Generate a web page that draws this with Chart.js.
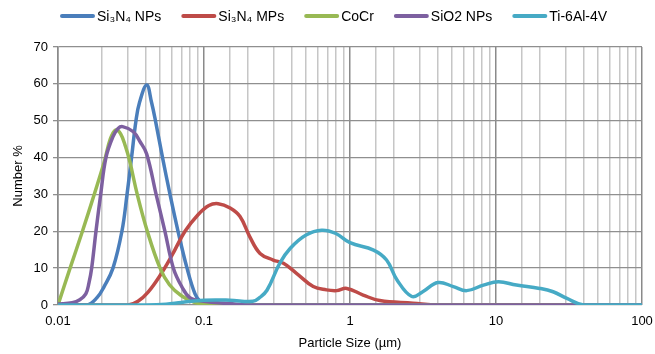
<!DOCTYPE html>
<html>
<head>
<meta charset="utf-8">
<script src="https://cdn.jsdelivr.net/npm/chart.js@4/dist/chart.umd.min.js"></script>
<style>
    html, body { margin: 0; padding: 0; background: #FFFFFF; }
    #graph_wrap { width: 655px; height: 354px; position: relative; }
</style>
</head>
<body>
<div id="graph_wrap"><canvas id="graph_psd"></canvas></div>
<script>

var LABELS_SERIES           = ['Si\u2083N\u2084 NPs', 'Si\u2083N\u2084 MPs', 'CoCr', 'SiO2 NPs', 'Ti-6Al-4V'];
var COLORS_SERIES           = ['#4A7EBB', '#BE4B48', '#98B954', '#7D60A0', '#46AAC5'];

var TICKS_X                 = [0.01, 0.1, 1, 10, 100];

var size_si3n4_nps          = [0.01, 0.0158, 0.0185, 0.0207, 0.0238, 0.0274, 0.0297, 0.0319, 0.0342, 0.0362, 0.0405, 0.0437, 0.0465, 0.052, 0.0585, 0.0664, 0.0765, 0.0868, 0.0939, 0.1032, 0.2, 100];
var value_si3n4_nps         = [0, 0, 2, 5, 10, 20, 30, 40, 50, 55, 59.7, 55, 50, 40, 30, 20, 10, 3, 1, 0, 0, 0];

var size_si3n4_mps          = [0.01, 0.0302, 0.0353, 0.0414, 0.05, 0.0604, 0.0741, 0.091, 0.108, 0.125, 0.151, 0.1765, 0.206, 0.242, 0.298, 0.35, 0.43, 0.56, 0.69, 0.81, 0.95, 1.23, 1.6, 2.7, 4, 100];
var value_si3n4_mps         = [0, 0, 1, 3.5, 8, 13.5, 20, 24.5, 27, 27.5, 26.3, 24, 18.5, 14, 12.2, 11.3, 8.6, 5, 4.1, 3.9, 4.5, 2.7, 1.2, 0.5, 0, 0];

var size_cocr               = [0.01, 0.0121, 0.0147, 0.0177, 0.0208, 0.0228, 0.0248, 0.0268, 0.029, 0.031, 0.0349, 0.0409, 0.05, 0.058, 0.07, 0.085, 0.1, 0.13, 100];
var value_cocr              = [0, 10, 20, 30, 39, 45, 47.5, 46.5, 43, 39, 30, 20, 10, 5.5, 2.5, 0.8, 0.2, 0, 0];

var size_sio2_nps           = [0.01, 0.0125, 0.0141, 0.0155, 0.0163, 0.017, 0.0182, 0.0196, 0.0213, 0.0238, 0.0258, 0.0277, 0.0328, 0.0365, 0.0405, 0.047, 0.054, 0.0617, 0.0704, 0.08, 0.1, 0.15, 0.2, 100];
var value_sio2_nps          = [0.3, 0.6, 1.4, 3, 6, 10, 20, 30, 40, 45.7, 47.9, 48.4, 47, 44.3, 41, 30, 20, 10, 5, 2, 1, 0.4, 0, 0];

var size_ti6al4v            = [0.01, 0.04, 0.055, 0.07, 0.1, 0.15, 0.216, 0.24, 0.27, 0.33, 0.39, 0.5, 0.64, 0.8, 1.0, 1.45, 1.78, 2.1, 2.65, 3.15, 4.0, 5.1, 6.3, 8.2, 10.4, 13.8, 19.9, 24.6, 30.6, 39.9, 100];
var value_ti6al4v           = [0, 0, 0.2, 0.7, 1.3, 1.3, 1.0, 2, 4, 11.3, 15.4, 19, 20.3, 19.4, 16.9, 14.9, 12.2, 6.8, 2.3, 3.6, 6.1, 5, 3.9, 5.4, 6.3, 5.4, 4.5, 3.6, 1.8, 0, 0];

var FONT_FAMILY             = "'Liberation Sans', Arial, sans-serif";

var graph_psd_chart         = null;



function graph_points(sizes, values) {

    return sizes.map(function(size, i) { return { x: size, y: values[i] }; });
}



function graph_is_decade(value) {

    var exp = Math.log10(value);

    return Math.abs(exp - Math.round(exp)) < 1e-6;
}



function graph_dataset(index, sizes, values) {

    return {
        label: LABELS_SERIES[index],
        data: graph_points(sizes, values),
        borderColor: COLORS_SERIES[index],
        backgroundColor: COLORS_SERIES[index],
        borderWidth: 3.5,
        pointRadius: 0,
        fill: false,
        tension: 0.4,
        order: 4 - index,
    };
}



// excel style legend: short thick line, text right next to it, one row on top
var graph_legend_excel = {
    id: 'graph_legend_excel',
    afterDraw: function(chart) {

        var ctx             = chart.ctx;
        var x               = 60;
        var y               = 16;

        ctx.save();
        ctx.font            = "14px " + FONT_FAMILY;
        ctx.textBaseline    = 'middle';
        ctx.textAlign       = 'left';
        ctx.lineWidth       = 4;
        ctx.lineCap         = 'round';

        chart.data.datasets.forEach(function(ds) {

            ctx.strokeStyle = ds.borderColor;
            ctx.beginPath();
            ctx.moveTo(x + 2, y);
            ctx.lineTo(x + 33, y);
            ctx.stroke();

            ctx.fillStyle   = '#000000';
            ctx.fillText(ds.label, x + 37, y + 1);

            x += 37 + ctx.measureText(ds.label).width + 20;
        });

        ctx.restore();
    }
};



function graph_draw() {

    var canvas              = document.getElementById('graph_psd');

    Chart.defaults.font.family  = FONT_FAMILY;
    Chart.defaults.font.size    = 13;
    Chart.defaults.color        = '#000000';

    graph_psd_chart = new Chart(canvas, {
        type: 'line',
        plugins: [graph_legend_excel],
        data: {
            datasets: [
                graph_dataset(0, size_si3n4_nps, value_si3n4_nps),
                graph_dataset(1, size_si3n4_mps, value_si3n4_mps),
                graph_dataset(2, size_cocr, value_cocr),
                graph_dataset(3, size_sio2_nps, value_sio2_nps),
                graph_dataset(4, size_ti6al4v, value_ti6al4v),
            ]
        },
        options: {
            responsive: true,
            maintainAspectRatio: false,
            animation: false,
            layout: {
                padding: { top: 47, right: 13, bottom: 0, left: 0 }
            },
            scales: {
                x: {
                    type: 'logarithmic',
                    min: 0.01,
                    max: 100,
                    afterFit: function(scale) {
                        scale.height        = 49;
                        scale.paddingLeft   = 0;
                        scale.paddingRight  = 0;
                    },
                    afterBuildTicks: function(scale) {
                        scale.ticks = scale.ticks.filter(function(t) { return t.value >= 0.01 && t.value <= 100; });
                    },
                    ticks: {
                        autoSkip: false,
                        maxRotation: 0,
                        padding: 9,
                        callback: function(value) {
                            return graph_is_decade(value) ? TICKS_X[Math.round(Math.log10(value)) + 2] : '';
                        }
                    },
                    grid: {
                        drawTicks: false,
                        lineWidth: 1.5,
                        color: function(ctx) {
                            return (ctx.tick && graph_is_decade(ctx.tick.value)) ? '#8A8A8A' : '#C6C6C6';
                        }
                    },
                    border: { display: false },
                    title: {
                        display: true,
                        text: 'Particle Size (\u00B5m)',
                        padding: { top: 0, bottom: 3 }
                    }
                },
                y: {
                    min: 0,
                    max: 70,
                    afterFit: function(scale) {
                        scale.width         = 58;
                        scale.paddingTop    = 0;
                        scale.paddingBottom = 0;
                    },
                    ticks: {
                        stepSize: 10,
                        padding: 5
                    },
                    grid: {
                        color: '#8F8F8F',
                        lineWidth: 1.3,
                        tickLength: 5
                    },
                    border: { color: '#8A8A8A', width: 1.5 },
                    title: {
                        display: true,
                        text: 'Number %',
                        padding: { top: 11, bottom: 0 }
                    }
                }
            },
            plugins: {
                legend: { display: false },
                tooltip: { enabled: false }
            }
        }
    });
}

graph_draw();

</script>
</body>
</html>
